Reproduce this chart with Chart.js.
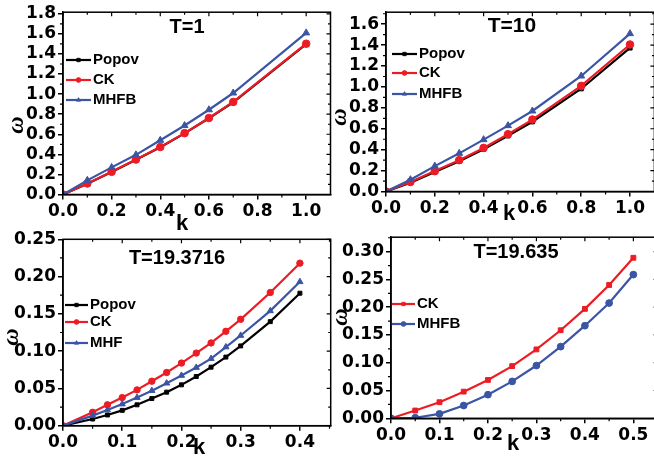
<!DOCTYPE html>
<html>
<head>
<meta charset="utf-8">
<script src="https://cdn.jsdelivr.net/npm/chart.js@4.4.1/dist/chart.umd.min.js"></script>
<style>
  html, body { margin: 0; padding: 0; background: #fff; overflow: hidden; width: 654px; height: 461px; }
  canvas { position: absolute; }
</style>
</head>
<body>
<canvas id="c1" width="340" height="240" style="left:0;top:0"></canvas>
<canvas id="c2" width="340" height="240" style="left:330px;top:0"></canvas>
<canvas id="c3" width="340" height="236" style="left:0;top:225px"></canvas>
<canvas id="c4" width="340" height="236" style="left:330px;top:225px"></canvas>
<script>
// T=1
const kT1 = [0, 0.1, 0.2, 0.3, 0.4, 0.5, 0.6, 0.7, 1.0];
const popovT1 = [0, 0.108, 0.224, 0.346, 0.471, 0.609, 0.759, 0.919, 1.498];
const ckT1 = [0, 0.11, 0.226, 0.348, 0.473, 0.611, 0.762, 0.922, 1.502];
const mhfbT1 = [0, 0.141, 0.27, 0.395, 0.54, 0.687, 0.844, 1.011, 1.61];

// T=10
const kT10 = [0, 0.1, 0.2, 0.3, 0.4, 0.5, 0.6, 0.8, 1.0];
const popovT10 = [0, 0.085, 0.186, 0.29, 0.405, 0.533, 0.667, 0.983, 1.373];
const ckT10 = [0, 0.091, 0.195, 0.30, 0.417, 0.548, 0.688, 1.01, 1.406];
const mhfbT10 = [0, 0.113, 0.243, 0.365, 0.496, 0.63, 0.77, 1.105, 1.51];

// T=19.3716
const kT3 = [0, 0.05, 0.075, 0.1, 0.125, 0.15, 0.175, 0.2, 0.225, 0.25, 0.275, 0.3, 0.35, 0.4];
const popovT3 = [0, 0.009, 0.0144, 0.0206, 0.028, 0.0364, 0.045, 0.0548, 0.066, 0.0785, 0.092, 0.107, 0.1396, 0.1777];
const ckT3 = [0, 0.018, 0.028, 0.0377, 0.048, 0.0597, 0.0714, 0.084, 0.0974, 0.111, 0.1266, 0.1427, 0.1786, 0.218];
const mhfT3 = [0, 0.0135, 0.021, 0.029, 0.0377, 0.047, 0.057, 0.0673, 0.078, 0.09, 0.1055, 0.121, 0.154, 0.193];

// T=19.635
const kT4 = [0, 0.05, 0.1, 0.15, 0.2, 0.25, 0.3, 0.35, 0.4, 0.45, 0.5];
const ckT4 = [0, 0.014, 0.029, 0.048, 0.069, 0.094, 0.124, 0.1585, 0.197, 0.24, 0.289];
const mhfbT4 = [0, 0.001, 0.008, 0.023, 0.0425, 0.0664, 0.095, 0.129, 0.1667, 0.2075, 0.2587];

const ROJO = '#ed1c24';
const AZUL = '#3b55a5';
const NEGRO = '#000000';
const fuenteTicks = { family: 'DejaVu Sans', weight: 'bold', size: 17 };

function serie(nombre, xs, ys, color, estilo, radio, orden) {
    return {
        label: nombre,
        data: xs.map((k, i) => ({ x: k, y: ys[i] })),
        borderColor: color,
        backgroundColor: color,
        borderWidth: 2.2,
        pointStyle: estilo,
        pointRadius: radio,
        pointBorderWidth: 1,
        tension: 0,
        order: orden
    };
}

// marco, ticks menores, textos y leyenda
const decoracion = {
    id: 'deco',
    afterDraw(chart, args, o) {
        const { ctx, chartArea: a, scales: { x, y } } = chart;
        ctx.save();
        ctx.strokeStyle = '#000';
        ctx.lineWidth = 1.5;
        ctx.strokeRect(a.left, a.top, a.right - a.left, a.bottom - a.top);

        ctx.lineWidth = 1.2;
        ctx.beginPath();
        const xt = x.ticks.map(t => t.value);
        for (let i = 0; i < xt.length; i++) {
            const px = x.getPixelForValue(xt[i]);
            ctx.moveTo(px, a.top); ctx.lineTo(px, a.top + 4);
            const m = xt[i] + (xt[1] - xt[0]) / 2;
            if (m < x.max) {
                const pm = x.getPixelForValue(m);
                ctx.moveTo(pm, a.bottom); ctx.lineTo(pm, a.bottom + 3);
                ctx.moveTo(pm, a.top); ctx.lineTo(pm, a.top + 2.5);
            }
        }
        const yt = y.ticks.map(t => t.value);
        for (let i = 0; i < yt.length; i++) {
            const py = y.getPixelForValue(yt[i]);
            ctx.moveTo(a.right, py); ctx.lineTo(a.right - 4, py);
            const m = yt[i] + (yt[1] - yt[0]) / 2;
            if (m < y.max) {
                const pm = y.getPixelForValue(m);
                ctx.moveTo(a.left, pm); ctx.lineTo(a.left - 3, pm);
                ctx.moveTo(a.right, pm); ctx.lineTo(a.right - 2.5, pm);
            }
        }
        ctx.stroke();

        ctx.fillStyle = '#000';
        ctx.textAlign = 'center';
        ctx.textBaseline = 'middle';
        ctx.font = 'bold ' + o.tamTitulo + 'px "Liberation Sans", Arial';
        ctx.fillText(o.titulo, o.posTitulo[0], o.posTitulo[1]);
        ctx.font = 'bold 22px "Liberation Sans", Arial';
        ctx.fillText('k', o.posK[0], o.posK[1]);
        ctx.save();
        ctx.translate(o.posW[0], o.posW[1]);
        ctx.rotate(-Math.PI / 2);
        ctx.font = 'italic bold 24px "Liberation Serif", serif';
        ctx.fillText('ω', 0, 0);
        ctx.restore();

        // leyenda
        const [lx0, lx1] = o.leyendaX;
        ctx.textAlign = 'left';
        ctx.font = 'bold 15px "Liberation Sans", Arial';
        chart.data.datasets.forEach((ds, i) => {
            const ly = o.leyendaY[i];
            ctx.strokeStyle = ds.borderColor;
            ctx.fillStyle = ds.backgroundColor;
            ctx.lineWidth = 2.2;
            ctx.beginPath();
            ctx.moveTo(lx0, ly); ctx.lineTo(lx1, ly);
            ctx.stroke();
            ctx.lineWidth = 0.8;
            Chart.helpers.drawPoint(ctx, { pointStyle: ds.pointStyle, rotation: 0, radius: 2.4, borderWidth: 0.8 }, (lx0 + lx1) / 2, ly);
            ctx.fillStyle = '#000';
            ctx.fillText(ds.label, lx1 + 2, ly);
        });
        ctx.restore();
    }
};

function escala(min, max, paso, dec, tam) {
    return {
        type: 'linear', min: min, max: max,
        ticks: {
            stepSize: paso, includeBounds: false, font: fuenteTicks, color: '#000',
            padding: 2, maxRotation: 0, autoSkip: false,
            callback: v => Number(v).toFixed(dec)
        },
        grid: { drawOnChartArea: false, tickLength: 5, color: '#000', lineWidth: 1.5 },
        border: { color: '#000', width: 1.5 },
        afterFit: s => { if (s.isHorizontal()) s.height = tam; else s.width = tam; }
    };
}

function panel(id, datasets, ejes, padding, deco) {
    new Chart(document.getElementById(id), {
        type: 'line',
        data: { datasets: datasets },
        options: {
            responsive: false,
            animation: false,
            devicePixelRatio: 1,
            layout: { padding: padding },
            scales: { x: ejes.x, y: ejes.y },
            plugins: { legend: { display: false }, tooltip: { enabled: false }, deco: deco }
        },
        plugins: [decoracion]
    });
}

panel('c1', [
    serie('Popov', kT1, popovT1, NEGRO, 'rect', 3, 2),
    serie('CK', kT1, ckT1, ROJO, 'circle', 3.8, 1),
    serie('MHFB', kT1, mhfbT1, AZUL, 'triangle', 4, 0)
], { x: escala(0, 1.1, 0.2, 1, 45.5), y: escala(0, 1.816, 0.2, 1, 63) },
   { top: 5, right: 9.5, left: 0, bottom: 0 },
   { titulo: 'T=1', tamTitulo: 20, posTitulo: [187, 27], posK: [182, 224], posW: [17, 125],
     leyendaX: [66, 91], leyendaY: [60, 80, 100] });

panel('c2', [
    serie('Popov', kT10, popovT10, NEGRO, 'rect', 3, 2),
    serie('CK', kT10, ckT10, ROJO, 'circle', 3.8, 1),
    serie('MHFB', kT10, mhfbT10, AZUL, 'triangle', 4, 0)
], { x: escala(0, 1.1, 0.2, 1, 48.5), y: escala(0, 1.715, 0.2, 1, 56) },
   { top: 3, right: 15.6, left: 0, bottom: 0 },
   { titulo: 'T=10', tamTitulo: 21, posTitulo: [182, 26], posK: [179, 214], posW: [10, 117],
     leyendaX: [62, 87], leyendaY: [54, 73, 94] });

panel('c3', [
    serie('Popov', kT3, popovT3, NEGRO, 'rect', 2.8, 2),
    serie('CK', kT3, ckT3, ROJO, 'circle', 3.2, 1),
    serie('MHF', kT3, mhfT3, AZUL, 'triangle', 3.6, 0)
], { x: escala(0, 0.452, 0.1, 1, 35.3), y: escala(0, 0.25, 0.05, 2, 63) },
   { top: 14.3, right: 9.3, left: 0, bottom: 0 },
   { titulo: 'T=19.3716', tamTitulo: 20, posTitulo: [177, 33], posK: [199, 223], posW: [12, 112],
     leyendaX: [65, 88], leyendaY: [80, 97, 118] });

panel('c4', [
    serie('CK', kT4, ckT4, ROJO, 'rect', 3.4, 1),
    serie('MHFB', kT4, mhfbT4, AZUL, 'circle', 3.4, 0)
], { x: escala(0, 0.55, 0.1, 1, 42.7), y: escala(0, 0.326, 0.05, 2, 61) },
   { top: 6.7, right: 12.4, left: 0, bottom: 0 },
   { titulo: 'T=19.635', tamTitulo: 20, posTitulo: [186, 27], posK: [183, 219], posW: [11, 92],
     leyendaX: [62, 85], leyendaY: [79, 99] });
</script>
</body>
</html>
